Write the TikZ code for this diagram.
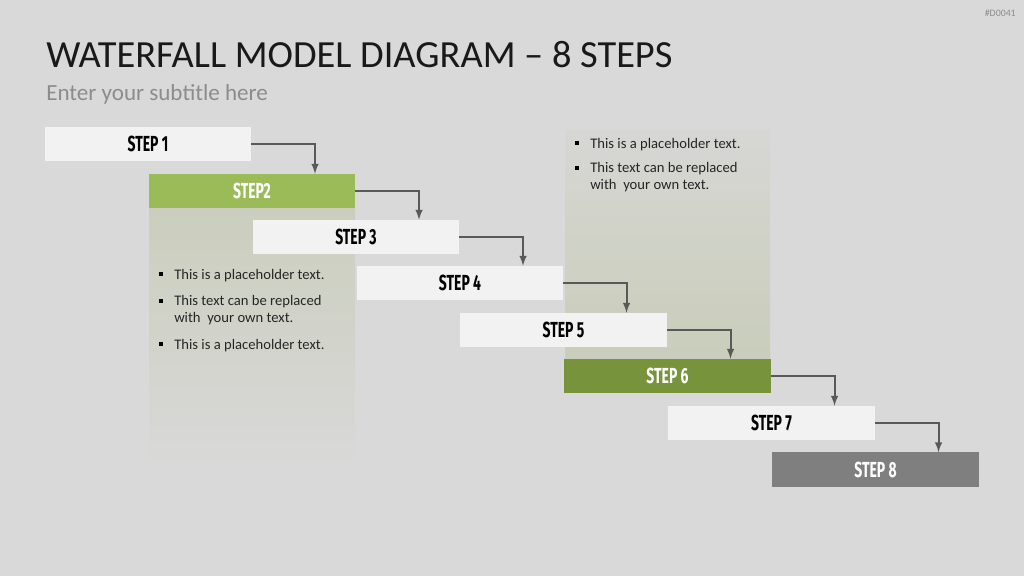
\documentclass[tikz,border=0pt]{standalone}
\usepackage{fontspec}
\setmainfont{Carlito}
\newfontfamily\stepfont[FakeStretch=0.64]{Fira Sans}
\usepackage{tikz}
\usetikzlibrary{arrows}
\usetikzlibrary{positioning}

\definecolor{bg}{HTML}{D9D9D9}
\definecolor{boxlight}{HTML}{F2F2F2}
\definecolor{boxgreen}{HTML}{9BBB59}
\definecolor{boxolive}{HTML}{77933C}
\definecolor{boxgray}{HTML}{7F7F7F}
\definecolor{panel}{HTML}{C9CDBA}
\definecolor{arrowgray}{HTML}{595959}

\begin{document}
\begin{tikzpicture}[x=0.025cm,y=-0.025cm]
	 \tikzstyle{stepbox}=[rectangle,minimum width=5.15cm,minimum height=0.85cm,inner sep=0pt,font=\stepfont\bfseries\fontsize{15.5}{17}\selectfont]
	 \tikzstyle{light}=[stepbox,fill=boxlight,text=black]
	 \tikzstyle{dark}=[stepbox,text=white]
	 \tikzstyle{edge} = [draw,line width=1.4pt,-latex,arrowgray]
	 \tikzstyle{bullet}=[anchor=west,align=left,font=\fontsize{10.4}{12.2}\selectfont,text=black!85,inner sep=0pt]
	 \tikzstyle{sqmark}=[rectangle,fill=black,minimum size=3pt,inner sep=0pt]
	 % background and margins
	 \fill[bg] (0,0) rectangle (1024,576);
	 \useasboundingbox (0,0) rectangle (1024,576);
	 \node[anchor=east,font=\fontsize{7}{8}\selectfont,text=black!45,inner sep=0pt] (tag) at (1016,13) {\#D0041};
	 \node[anchor=base west,font=\fontsize{27.3}{30}\selectfont,text=black!90,inner sep=0pt] (title) at (46,68) {WATERFALL MODEL DIAGRAM -- 8 STEPS};
	 \node[anchor=base west,font=\fontsize{16.4}{18}\selectfont,text=black!45,inner sep=0pt] (subtitle) at (46,101) {Enter your subtitle here};

	 % text panels
	 \shade[top color=panel!90!bg,bottom color=bg] (149,208) rectangle (355,472);
	 \shade[top color=bg!85!panel,bottom color=panel] (565,130) rectangle (770,359);

	 \node[light] (s1) at (148,144) {STEP 1};
	 \node[dark,fill=boxgreen] (s2) at (252,191) {STEP2};
	 \node[light] (s3) at (356,237) {STEP 3};
	 \node[light] (s4) at (460,283) {STEP 4};
	 \node[light] (s5) at (563.5,330) {STEP 5};
	 \node[dark,fill=boxolive] (s6) at (667.5,376) {STEP 6};
	 \node[light] (s7) at (771.5,423) {STEP 7};
	 \node[dark,fill=boxgray] (s8) at (875.5,469.5) {STEP 8};

	 \draw[edge] (s1.east) -| ([xshift=1.575cm]s2.north);
	 \draw[edge] (s2.east) -| ([xshift=1.575cm]s3.north);
	 \draw[edge] (s3.east) -| ([xshift=1.575cm]s4.north);
	 \draw[edge] (s4.east) -| ([xshift=1.575cm]s5.north);
	 \draw[edge] (s5.east) -| ([xshift=1.575cm]s6.north);
	 \draw[edge] (s6.east) -| ([xshift=1.575cm]s7.north);
	 \draw[edge] (s7.east) -| ([xshift=1.575cm]s8.north);

	 % bullets under step 2
	 \node[bullet] (a1) at (174,276) {This is a placeholder text.};
	 \node[bullet,anchor=north west] (a2) at (174,295) {This text can be replaced\\with\ \ your own text.};
	 \node[bullet] (a3) at (174,346) {This is a placeholder text.};
	 \node[sqmark] (m1) at (161,274) {};
	 \node[sqmark] (m2) at (161,301) {};
	 \node[sqmark] (m3) at (161,344) {};

	 % bullets above step 6
	 \node[bullet] (b1) at (590,145) {This is a placeholder text.};
	 \node[bullet,anchor=north west] (b2) at (590,162) {This text can be replaced\\with\ \ your own text.};
	 \node[sqmark] (n1) at (577,143) {};
	 \node[sqmark] (n2) at (577,168) {};
\end{tikzpicture}
\end{document}
